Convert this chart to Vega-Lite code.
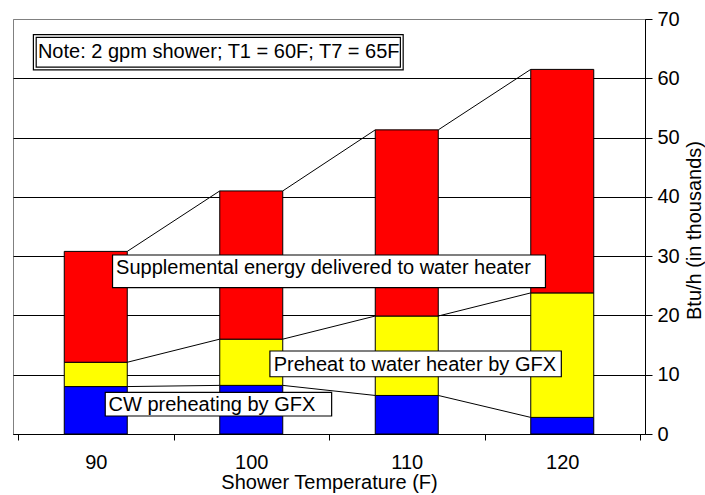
{
  "$schema": "https://vega.github.io/schema/vega-lite/v6.json",
  "width": 632,
  "height": 415,
  "autosize": {"type": "none"},
  "padding": {"left": 13, "top": 19, "right": 60, "bottom": 61},
  "background": "white",
  "config": {
    "font": "Liberation Sans",
    "view": {"stroke": "#808080", "strokeWidth": 1}
  },
  "datasets": {
    "energy": [
      {"temp": 90, "series": "CW preheating by GFX", "order": 1, "value": 8.0},
      {"temp": 90, "series": "Preheat to water heater by GFX", "order": 2, "value": 4.1},
      {"temp": 90, "series": "Supplemental energy delivered to water heater", "order": 3, "value": 18.7},
      {"temp": 100, "series": "CW preheating by GFX", "order": 1, "value": 8.2},
      {"temp": 100, "series": "Preheat to water heater by GFX", "order": 2, "value": 7.8},
      {"temp": 100, "series": "Supplemental energy delivered to water heater", "order": 3, "value": 25.0},
      {"temp": 110, "series": "CW preheating by GFX", "order": 1, "value": 6.5},
      {"temp": 110, "series": "Preheat to water heater by GFX", "order": 2, "value": 13.4},
      {"temp": 110, "series": "Supplemental energy delivered to water heater", "order": 3, "value": 31.4},
      {"temp": 120, "series": "CW preheating by GFX", "order": 1, "value": 2.8},
      {"temp": 120, "series": "Preheat to water heater by GFX", "order": 2, "value": 21.0},
      {"temp": 120, "series": "Supplemental energy delivered to water heater", "order": 3, "value": 37.7}
    ],
    "labels": [
      {"label": "Note: 2 gpm shower; T1 = 60F; T7 = 65F", "kind": "note", "x1": 86.08, "x2": 109.68, "y1": 61.65, "y2": 67.13, "tx": 86.28, "ty": 63.5},
      {"label": "Supplemental energy delivered to water heater", "kind": "callout", "x1": 91.08, "x2": 118.92, "y1": 24.68, "y2": 30.19, "tx": 91.31, "ty": 26.99},
      {"label": "Preheat to water heater by GFX", "kind": "callout", "x1": 101.2, "x2": 119.94, "y1": 9.66, "y2": 14.0, "tx": 101.44, "ty": 10.68},
      {"label": "CW preheating by GFX", "kind": "callout", "x1": 90.61, "x2": 105.17, "y1": 3.04, "y2": 7.03, "tx": 90.82, "ty": 3.93}
    ]
  },
  "layer": [
    {
      "data": {"name": "energy"},
      "transform": [
        {"stack": "value", "groupby": ["temp"], "sort": [{"field": "order"}], "as": ["v0", "v1"]}
      ],
      "mark": {"type": "bar", "size": 63, "stroke": "black", "strokeWidth": 1},
      "encoding": {
        "x": {
          "field": "temp",
          "type": "quantitative",
          "scale": {"domain": [85, 125], "nice": false, "zero": false},
          "axis": {
            "values": [85, 90, 95, 100, 105, 110, 115, 120, 125],
            "labelExpr": "datum.value % 10 == 0 ? datum.label : ''",
            "tickOpacity": {"condition": {"test": "datum.value % 10 == 5", "value": 1}, "value": 0},
            "tickSize": 6,
            "tickColor": "black",
            "domainColor": "black",
            "grid": false,
            "labelFontSize": 20,
            "labelColor": "black",
            "labelPadding": 12,
            "title": "Shower Temperature (F)",
            "titleFontSize": 20,
            "titleFontWeight": "normal",
            "titleColor": "black",
            "titleBaseline": "alphabetic",
            "titleY": 54
          }
        },
        "y": {
          "field": "v0",
          "type": "quantitative",
          "scale": {"domain": [0, 70], "nice": false},
          "axis": {
            "orient": "right",
            "values": [0, 10, 20, 30, 40, 50, 60, 70],
            "grid": true,
            "gridColor": {"condition": {"test": "datum.value == 70", "value": "#808080"}, "value": "black"},
            "gridOpacity": 1,
            "tickSize": 7,
            "tickColor": "black",
            "domainColor": "black",
            "labelFontSize": 20,
            "labelColor": "black",
            "labelPadding": 5,
            "title": "Btu/h (in thousands)",
            "titleFontSize": 20,
            "titleFontWeight": "normal",
            "titleColor": "black",
            "titleAngle": 270,
            "titleAlign": "center",
            "titleBaseline": "alphabetic",
            "titleX": 55,
            "titleY": 211
          }
        },
        "y2": {"field": "v1"},
        "color": {
          "field": "series",
          "type": "nominal",
          "scale": {
            "domain": ["CW preheating by GFX", "Preheat to water heater by GFX", "Supplemental energy delivered to water heater"],
            "range": ["#0000FF", "#FFFF00", "#FF0000"]
          },
          "legend": null
        }
      }
    },
    {
      "data": {"name": "energy"},
      "transform": [
        {"stack": "value", "groupby": ["temp"], "sort": [{"field": "order"}], "as": ["v0", "v1"]},
        {"window": [{"op": "lead", "field": "temp", "as": "next_temp"}, {"op": "lead", "field": "v1", "as": "next_v1"}], "groupby": ["series"], "sort": [{"field": "temp"}], "frame": [null, null]},
        {"filter": "datum.next_temp != null"}
      ],
      "mark": {"type": "rule", "color": "black", "strokeWidth": 1, "xOffset": 31.5, "x2Offset": -31.5},
      "encoding": {
        "x": {"field": "temp", "type": "quantitative"},
        "x2": {"field": "next_temp"},
        "y": {"field": "v1", "type": "quantitative"},
        "y2": {"field": "next_v1"}
      }
    },
    {
      "data": {"name": "labels"},
      "mark": {"type": "rect", "fill": "white", "stroke": "black"},
      "encoding": {
        "x": {"field": "x1", "type": "quantitative"},
        "x2": {"field": "x2"},
        "y": {"field": "y1", "type": "quantitative"},
        "y2": {"field": "y2"},
        "strokeWidth": {"condition": {"test": "datum.kind == 'note'", "value": 4}, "value": 1.2}
      }
    },
    {
      "data": {"name": "labels"},
      "transform": [{"filter": "datum.kind == 'note'"}],
      "mark": {"type": "rect", "fill": null, "stroke": "white", "strokeWidth": 1.6},
      "encoding": {
        "x": {"field": "x1", "type": "quantitative"},
        "x2": {"field": "x2"},
        "y": {"field": "y1", "type": "quantitative"},
        "y2": {"field": "y2"}
      }
    },
    {
      "data": {"name": "labels"},
      "mark": {"type": "text", "align": "left", "baseline": "alphabetic", "fontSize": 20, "color": "black"},
      "encoding": {
        "x": {"field": "tx", "type": "quantitative"},
        "y": {"field": "ty", "type": "quantitative"},
        "text": {"field": "label"}
      }
    }
  ]
}
